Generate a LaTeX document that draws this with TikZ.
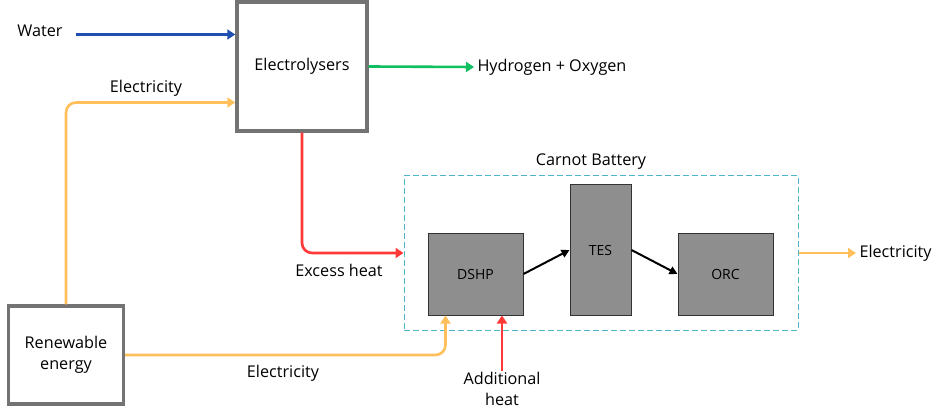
\documentclass[tikz,border=0pt]{standalone}
\usepackage{fontspec}
\setmainfont{Open Sans}
\usetikzlibrary{arrows.meta}

\definecolor{waterblue}{HTML}{1F4FB0}
\definecolor{gasgreen}{HTML}{10C060}
\definecolor{powerorange}{HTML}{FFC05C}
\definecolor{heatred}{HTML}{FF3838}
\definecolor{batteal}{HTML}{4DB6C8}
\definecolor{unitgrey}{HTML}{8E8E8E}

\tikzset{
  flow/.style={line width=2.6pt, -{Triangle[length=8pt,width=10pt]}},
  outerbox/.style={draw=black!55, fill=white, line width=3.4pt},
  unitbox/.style={draw=black!80, fill=unitgrey, line width=1pt, font=\fontsize{14}{16}\selectfont},
  lbl/.style={font=\fontsize{16.2}{21}\selectfont, align=center}
}

\begin{document}
\begin{tikzpicture}[x=1pt,y=-1pt]
\useasboundingbox (0,0) rectangle (942,414);
% main boxes
\node[outerbox, lbl, minimum width=130pt, minimum height=129pt] (elec) at (302,66.5) {Electrolysers};
\node[outerbox, lbl, minimum width=115pt, minimum height=98pt] (ren) at (66,355) {Renewable\\energy};
% carnot battery
\node[draw=batteal, dash pattern=on 6pt off 3pt, line width=1pt, minimum width=394pt, minimum height=154pt] (carnot) at (601,253) {};
\node[lbl] (carnotlbl) at (591,162) {Carnot Battery};
\node[unitbox, minimum width=95pt, minimum height=82pt] (dshp) at (475.5,274) {DSHP};
\node[unitbox, minimum width=61pt, minimum height=130pt] (tes) at (600.5,250) {TES};
\node[unitbox, minimum width=95pt, minimum height=82pt] (orc) at (725.5,274) {ORC};
% labels
\node[lbl] (water) at (40,31) {Water};
\node[lbl, anchor=west] (h2) at (474,67) {Hydrogen + Oxygen};
\node[lbl] (elup) at (146,88) {Electricity};
\node[lbl] (excess) at (339,270) {Excess heat};
\node[lbl] (eldown) at (283,373) {Electricity};
\node[lbl, anchor=west] (elout) at (856,253) {Electricity};
\node[lbl, inner sep=1pt] (addheat) at (502,389) {Additional\\heat};
% flows
\coordinate (win) at ([yshift=32pt]elec.west);
\draw[flow, waterblue] ([xshift=10pt]water.east |- win) -- (win);
\draw[flow, gasgreen] (elec.east) -- (h2.west);
\draw[flow, powerorange, rounded corners=10pt] (ren.north) |- ([yshift=-36pt]elec.west);
\draw[flow, heatred, rounded corners=10pt] (elec.south) |- (carnot.west);
\draw[flow, powerorange, rounded corners=10pt] (ren.east) -| ([xshift=-30pt]dshp.south);
\draw[flow, heatred] (addheat.north) -- (addheat.north |- dshp.south);
\draw[flow, powerorange] (carnot.east) -- (elout.west);
\draw[line width=2pt, -{Triangle[length=8pt,width=8pt]}] (dshp.east) -- (tes.west);
\draw[line width=2pt, -{Triangle[length=8pt,width=8pt]}] (tes.east) -- (orc.west);
\end{tikzpicture}
\end{document}
